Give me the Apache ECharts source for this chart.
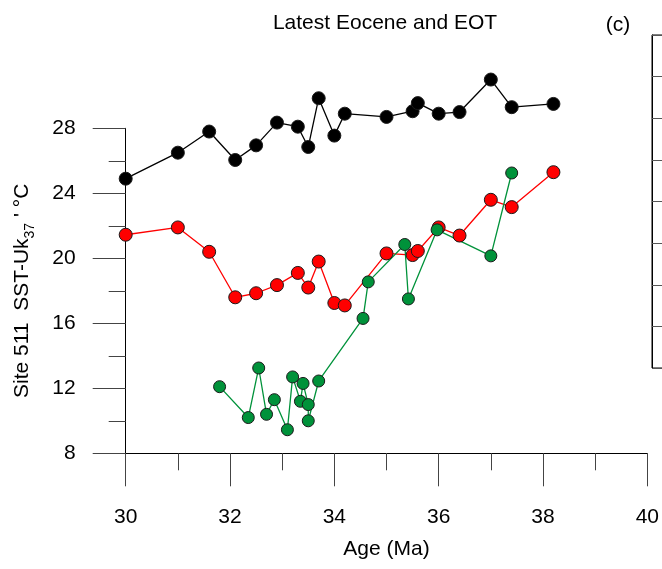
<!DOCTYPE html>
<html>
<head>
<meta charset="utf-8">
<script src="https://cdn.jsdelivr.net/npm/echarts@6/dist/echarts.min.js"></script>
<style>
  html, body { margin: 0; padding: 0; background: #fff; }
  #main { width: 662px; height: 569px; }
</style>
</head>
<body>
<div id="main"></div>
<script>
'use strict';

// Site 511 SST (Uk37') vs age, three records
const ageBlack = [30.0, 31.0, 31.6, 32.1, 32.5, 32.9, 33.3, 33.5, 33.7, 34.0, 34.2, 35.0, 35.5, 35.6, 36.0, 36.4, 37.0, 37.4, 38.2];
const sstBlack = [24.9, 26.5, 27.8, 26.05, 26.95, 28.35, 28.1, 26.85, 29.85, 27.55, 28.9, 28.7, 29.05, 29.55, 28.9, 29.0, 31.0, 29.3, 29.5];

const ageRed = [30.0, 31.0, 31.6, 32.1, 32.5, 32.9, 33.3, 33.5, 33.7, 34.0, 34.2, 35.0, 35.5, 35.6, 36.0, 36.4, 37.0, 37.4, 38.2];
const sstRed = [21.45, 21.9, 20.4, 17.6, 17.85, 18.35, 19.1, 18.2, 19.8, 17.25, 17.1, 20.3, 20.2, 20.45, 21.9, 21.4, 23.6, 23.15, 25.3];

const ageGreen = [31.8, 32.35, 32.55, 32.7, 32.85, 33.1, 33.2, 33.35, 33.4, 33.5, 33.5, 33.7, 34.55, 34.65, 35.35, 35.42, 35.97, 37.0, 37.4];
const sstGreen = [12.1, 10.2, 13.25, 10.4, 11.3, 9.45, 12.7, 11.2, 12.3, 11.0, 10.0, 12.45, 16.3, 18.55, 20.85, 17.5, 21.75, 20.15, 25.25];

const xTicks = [30, 32, 34, 36, 38, 40];
const yTicks = [8, 12, 16, 20, 24, 28];

const FONT = 'Liberation Sans';
const FS = 21;

const chart = echarts.init(document.getElementById('main'));

const zip = (xs, ys) => xs.map((x, i) => [x, ys[i]]);

function lineSeries(name, xs, ys, fill, lineColor, size) {
    return {
        name: name,
        type: 'line',
        xAxisIndex: 0,
        yAxisIndex: 0,
        data: zip(xs, ys),
        clip: false, // points above 28 sit outside the axis range, like in R
        symbol: 'circle',
        symbolSize: size,
        showSymbol: true,
        animation: false,
        lineStyle: { color: lineColor, width: 1.3 },
        itemStyle: { color: fill, borderColor: '#1a1a1a', borderWidth: 1 },
        z: 3
    };
}

const option = {
    backgroundColor: '#fff',
    animation: false,
    textStyle: { fontFamily: FONT },
    title: [{
        text: 'Latest Eocene and EOT',
        left: 380,
        top: 8,
        textAlign: 'center',
        textStyle: { fontFamily: FONT, fontSize: FS, fontWeight: 'normal', color: '#000' }
    }, {
        text: '(c)',
        left: 613,
        top: 10,
        textAlign: 'center',
        textStyle: { fontFamily: FONT, fontSize: FS, fontWeight: 'normal', color: '#000' }
    }],
    grid: [{
        left: 125.7,
        right: 13.3,
        top: 128.3,
        bottom: 115.7
    }, {
        // edge of neighbouring panel (c)
        show: true,
        left: 652,
        right: -100,
        top: 35,
        bottom: 201,
        borderColor: '#000',
        borderWidth: 1
    }],
    xAxis: [{
        type: 'value',
        gridIndex: 0,
        min: 30,
        max: 40,
        interval: 2,
        name: 'Age (Ma)',
        nameLocation: 'middle',
        nameGap: 85,
        nameTextStyle: { fontFamily: FONT, fontSize: FS, color: '#000' },
        axisLine: { show: true, lineStyle: { color: '#000', width: 1 } },
        axisTick: { show: true, length: 33, lineStyle: { color: '#444' } },
        minorTick: { show: true, splitNumber: 2, length: 17, lineStyle: { color: '#444' } },
        splitLine: { show: false },
        axisLabel: {
            margin: 53,
            fontFamily: FONT,
            fontSize: FS,
            color: '#000',
            formatter: v => (xTicks.indexOf(v) >= 0 ? String(v) : '')
        }
    }, {
        type: 'value',
        gridIndex: 1,
        show: false,
        min: 0,
        max: 1
    }],
    yAxis: [{
        type: 'value',
        gridIndex: 0,
        min: 8,
        max: 28,
        interval: 4,
        name: '{a|Site 511  SST-Uk}{s|37}{a| \' °C}',
        nameLocation: 'middle',
        nameGap: 93,
        nameTextStyle: {
            color: '#000',
            rich: {
                a: { fontFamily: FONT, fontSize: FS, color: '#000', lineHeight: 24, verticalAlign: 'bottom' },
                s: { fontFamily: FONT, fontSize: 14, color: '#000', lineHeight: 16, verticalAlign: 'bottom', padding: [0, 0, -4, 0] }
            }
        },
        axisLine: { show: true, lineStyle: { color: '#000', width: 1 } },
        axisTick: { show: true, length: 33, lineStyle: { color: '#444' } },
        minorTick: { show: true, splitNumber: 2, length: 17, lineStyle: { color: '#444' } },
        splitLine: { show: false },
        axisLabel: {
            margin: 50,
            fontFamily: FONT,
            fontSize: FS,
            color: '#000',
            formatter: v => (yTicks.indexOf(v) >= 0 ? String(v) : '')
        }
    }, {
        type: 'value',
        gridIndex: 1,
        min: 0,
        max: 8,
        interval: 1,
        axisLine: { show: true, lineStyle: { color: '#000' } },
        axisTick: { show: true, inside: true, length: 10, lineStyle: { color: '#555' } },
        axisLabel: { show: false },
        splitLine: { show: false }
    }],
    series: [
        lineSeries('black', ageBlack, sstBlack, '#000', '#000', 13),
        lineSeries('red', ageRed, sstRed, '#ff0000', '#ff0000', 13),
        lineSeries('green', ageGreen, sstGreen, '#00923a', '#00923a', 12)
    ]
};

chart.setOption(option);
</script>
</body>
</html>
